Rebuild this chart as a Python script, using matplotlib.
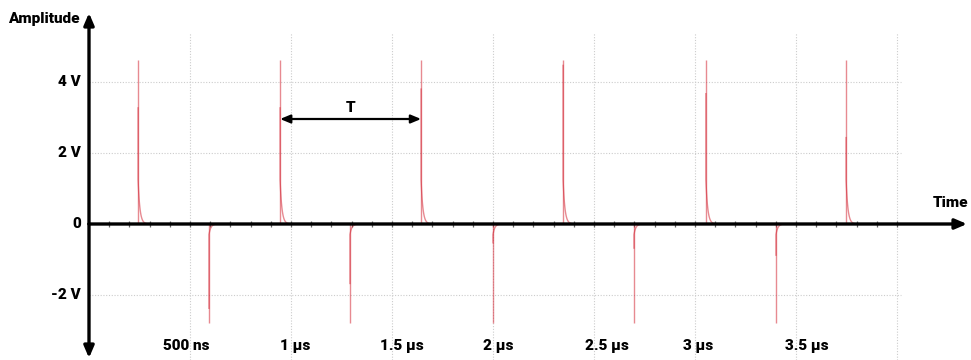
import numpy as np
import matplotlib
matplotlib.use("Agg")
import matplotlib.pyplot as plt
from matplotlib import font_manager

# ---------------- data ----------------
# positive pulses: time (µs), tip amplitude (V), level of the dense part (V)
pos_t = [0.243, 0.946, 1.644, 2.347, 3.054, 3.748]
pos_peak = [4.63, 4.63, 4.63, 4.63, 4.63, 4.63]
pos_dense = [3.3, 3.3, 3.83, 4.5, 3.7, 2.46]
pos_knee = 1.25
# negative pulses
neg_t = [0.594, 1.292, 2.0, 2.698, 3.401]
neg_peak = [-2.8, -2.8, -2.8, -2.8, -2.8]
neg_dense = [-2.4, -1.7, -0.55, -0.7, -0.9]
neg_knee = -0.3
tail_tau_us = 0.009

x_ticks = [0.5, 1.0, 1.5, 2.0, 2.5, 3.0, 3.5]
x_tick_labels = ["500 ns", "1 \u00b5s", "1.5 \u00b5s", "2 \u00b5s", "2.5 \u00b5s", "3 \u00b5s", "3.5 \u00b5s"]
grid_x = [0.5, 1.0, 1.5, 2.0, 2.5, 3.0, 3.5, 4.0]
y_ticks = [4, 2, 0, -2]
y_tick_labels = ["4 V", "2 V", "0", "-2 V"]
grid_y = [4, 2, -2]
period_marker = (0.946, 1.644)

# ---------------- figure geometry ----------------
W, H = 971, 360
X0, SX = 89.0, 202.0      # pixel of t=0, px per µs
Y0, SY = 224.0, 35.4      # pixel of 0 V, px per volt
label_left_px = [-27, -11, -12, -10, -9, -12, -11]   # left edge of tick label vs. its tick

def fx(px):
    return (px - X0) / SX

def fy(py):
    return (Y0 - py) / SY

names = {f.name for f in font_manager.fontManager.ttflist}
family = [n for n in ["Roboto", "DejaVu Sans"] if n in names]
plt.rcParams["font.family"] = family

fig = plt.figure(figsize=(W / 100, H / 100), dpi=100)
ax = fig.add_axes([0, 0, 1, 1])
ax.set_xlim(fx(0), fx(W))
ax.set_ylim(fy(H), fy(0))
ax.axis("off")

# grid
grid_kw = dict(color="#cccccc", lw=0.8, ls=(0, (1, 1.5)), zorder=1)
ax.vlines(grid_x, fy(H), fy(33), **grid_kw)
ax.hlines(grid_y, 0, fx(901), **grid_kw)

# minor ticks on time axis
minor = np.round(np.arange(0.1, 4.001, 0.1), 3)
ax.vlines(minor, fy(Y0 + 3), fy(Y0 - 3), color="#666666", lw=0.9, zorder=3)

# signal
red = "#d42a38"
sig_kw = dict(color=red, lw=1.0, alpha=0.55, zorder=4, solid_capstyle="butt")

def draw_pulse(t0, peak, dense, knee):
    ax.plot([t0, t0], [0, peak], **sig_kw)
    tt = np.linspace(0, 8 * tail_tau_us, 60)
    tail_v = knee * np.exp(-tt / tail_tau_us)
    xs = np.concatenate([[t0, t0], t0 + tt])
    ys = np.concatenate([[dense, knee], tail_v])
    ax.plot(xs, ys, **sig_kw)

for t0, p, d in zip(pos_t, pos_peak, pos_dense):
    draw_pulse(t0, p, d, pos_knee)
for t0, p, d in zip(neg_t, neg_peak, neg_dense):
    draw_pulse(t0, p, d, neg_knee)

# axes with arrows
arrow_kw = dict(arrowstyle="-|>,head_length=0.7,head_width=0.3", color="black", lw=2.4,
                shrinkA=0, shrinkB=0)
ax.annotate("", xy=(fx(967), 0), xytext=(0, 0), arrowprops=arrow_kw, zorder=5)
ax.annotate("", xy=(0, fy(13)), xytext=(0, 0), arrowprops=arrow_kw, zorder=5)
ax.annotate("", xy=(0, fy(358)), xytext=(0, 0), arrowprops=arrow_kw, zorder=5)

# period marker T
tk = dict(arrowstyle="<|-|>,head_length=0.6,head_width=0.25", color="black", lw=1.6,
          shrinkA=0, shrinkB=0)
ax.annotate("", xy=(period_marker[0], fy(119)), xytext=(period_marker[1], fy(119)),
            arrowprops=tk, zorder=5)
ax.text((period_marker[0] + period_marker[1]) / 2, fy(108), "T", ha="center", va="center",
        fontsize=11, fontweight=900)

# labels
txt_kw = dict(fontsize=11, fontweight=900, color="black")
for v, lab in zip(y_ticks, y_tick_labels):
    ax.text(fx(81), v, lab, ha="right", va="center", **txt_kw)
for t, lab, off in zip(x_ticks, x_tick_labels, label_left_px):
    ax.text(t + off / SX, fy(346), lab, ha="left", va="center", **txt_kw)
ax.text(fx(80), fy(19), "Amplitude", ha="right", va="center", **txt_kw)
ax.text(fx(951), fy(203), "Time", ha="center", va="center", **txt_kw)

fig.savefig("out.png", dpi=100)
